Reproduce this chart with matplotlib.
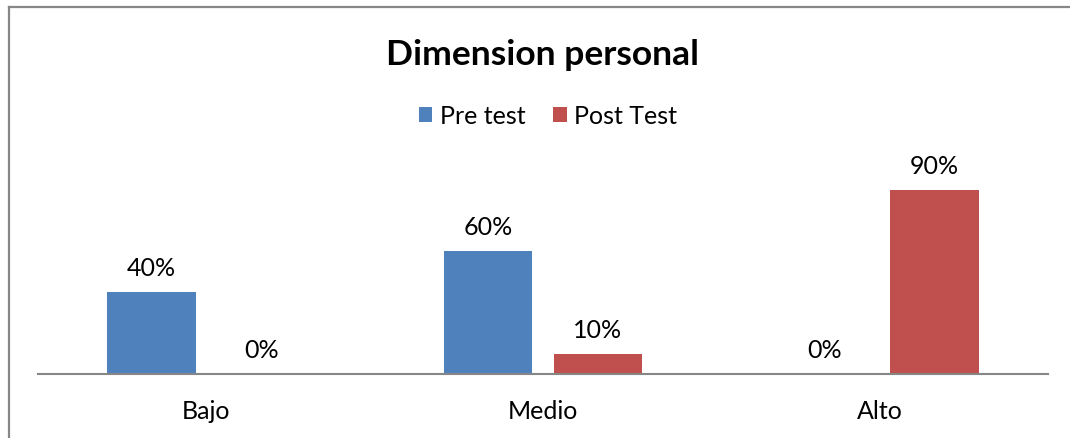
import matplotlib
matplotlib.use("Agg")
import matplotlib.pyplot as plt
import numpy as np
from matplotlib.lines import Line2D

categories = ["Bajo", "Medio", "Alto"]
series_names = ["Pre test", "Post Test"]
pre_test = [40, 60, 0]
post_test = [0, 10, 90]
colors = ["#4F81BD", "#C0504D"]

plt.rcParams['font.family'] = ['Lato', 'DejaVu Sans']

W, H = 1070, 438
fig = plt.figure(figsize=(W / 100, H / 100), dpi=100)

# outer border (top and left visible only)
bx, by = 8.5 / W, 1 - 6.5 / H
fig.lines.append(Line2D([bx, bx], [-0.1, by], transform=fig.transFigure,
                        color="#878787", linewidth=1.6))
fig.lines.append(Line2D([bx, 1.1], [by, by], transform=fig.transFigure,
                        color="#878787", linewidth=1.6))

left, right = 38 / W, 1048 / W
bottom = (H - 374) / H
top = (H - 169.6) / H
ax = fig.add_axes([left, bottom, right - left, top - bottom])

x = np.arange(len(categories))
bw = 88 / 336
off = 0.163
values = [pre_test, post_test]
for i, (vals, name, c) in enumerate(zip(values, series_names, colors)):
    xs = x + (-off if i == 0 else off)
    ax.bar(xs, vals, width=bw, color=c, label=name)
    for xx, v in zip(xs, vals):
        ax.text(xx, v + 11.5, f"{v}%", ha="center", va="center", fontsize=18, color="#000000")

ax.set_xlim(-0.5, 2.5)
ax.set_ylim(0, 100)
for s in ["top", "right", "left"]:
    ax.spines[s].set_visible(False)
ax.spines["bottom"].set_color("#868686")
ax.spines["bottom"].set_linewidth(1.5)
ax.set_yticks([])
ax.set_xticks(x)
ax.set_xticklabels(categories, fontsize=18)
ax.tick_params(axis="x", length=0, pad=19)

fig.text(543 / W, 1 - 55 / H, "Dimension personal", ha="center", va="center",
         fontsize=25.5, fontweight="bold")
fig.legend(loc="center", bbox_to_anchor=(548 / W, 1 - 116 / H), ncol=2, frameon=False,
           fontsize=18, handlelength=0.55, handleheight=0.55, handletextpad=0.3,
           columnspacing=1.1)

fig.savefig("out.png", dpi=100)
